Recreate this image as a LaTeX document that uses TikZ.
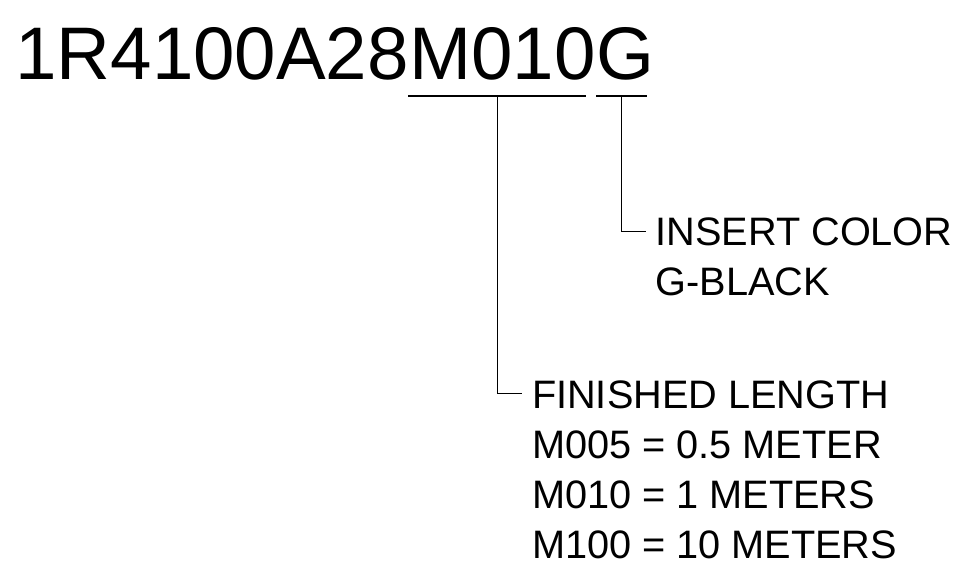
\documentclass[tikz,border=0pt]{standalone}
\usepackage{fontspec}
\setmainfont{Liberation Sans}
\usetikzlibrary{calc}
\begin{document}
\begin{tikzpicture}[x=1pt,y=1pt,
  title/.style={inner sep=0pt,anchor=base west,font=\fontsize{74.5}{80}\selectfont},
  lbl/.style={inner sep=0pt,anchor=base west,font=\fontsize{39.7}{48}\selectfont},
  uline/.style={line width=1.6pt},
  conn/.style={line width=0.9pt}]
\useasboundingbox (0,0) rectangle (973,-588);
% part number split into pieces
\node[title] (pre) at (15.2,-80) {1R4100A28};
\node[title] (len) at (pre.base east) {M010};
\node[title] (col) at (len.base east) {G};
% underlines
\coordinate (u1a) at ($(len.base west)+(-1,-16)$);
\coordinate (u1b) at ($(len.base east)+(-10,-16)$);
\coordinate (u2a) at ($(col.base west)+(0.5,-16)$);
\coordinate (u2b) at ($(col.base east)+(-7,-16)$);
\draw[uline] (u1a) -- (u1b);
\draw[uline] (u2a) -- (u2b);
\coordinate (m1) at ($(u1a)!0.5!(u1b)$);
\coordinate (m2) at ($(u2a)!0.5!(u2b)$);
% insert color labels
\node[lbl] (ic1) at (655.3,-245) {INSERT COLOR};
\node[lbl] (ic2) at ($(ic1.base west)+(0,-50.3)$) {G-BLACK};
% finished length labels
\node[lbl] (fl1) at (531.8,-408) {FINISHED LENGTH};
\node[lbl] (fl2) at ($(fl1.base west)+(0,-50.3)$) {M005 = 0.5 METER};
\node[lbl] (fl3) at ($(fl2.base west)+(0,-50.3)$) {M010 = 1 METERS};
\node[lbl] (fl4) at ($(fl3.base west)+(0,-50.3)$) {M100 = 10 METERS};
% connectors
\coordinate (e2) at ($(ic1.base west)+(-9.5,13.5)$);
\coordinate (e1) at ($(fl1.base west)+(-10,15)$);
\draw[conn] (m2) |- (e2);
\draw[conn] (m1) |- (e1);
\end{tikzpicture}
\end{document}
